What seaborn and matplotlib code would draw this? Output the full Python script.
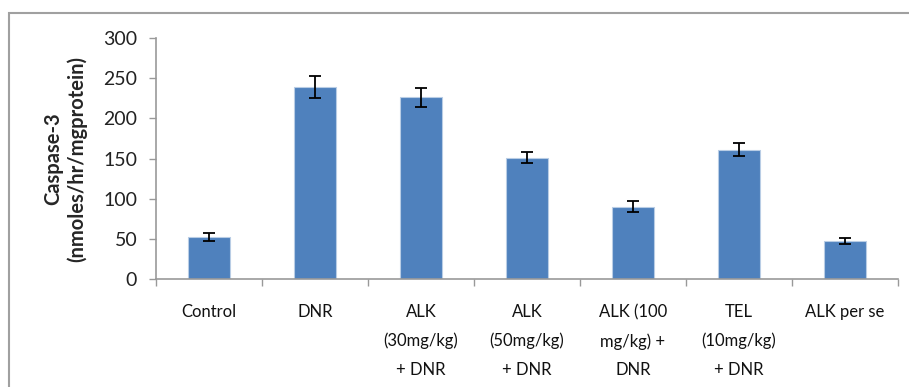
import matplotlib
matplotlib.use("Agg")
import matplotlib.pyplot as plt
import seaborn as sns
import pandas as pd
import numpy as np
from matplotlib.patches import Rectangle

categories = ["Control", "DNR", "ALK\n(30mg/kg)\n+ DNR", "ALK\n(50mg/kg)\n+ DNR",
              "ALK (100\nmg/kg) +\nDNR", "TEL\n(10mg/kg)\n+ DNR", "ALK per se"]
values = [52, 239, 226, 151, 90, 161, 47]
errors = [5, 14, 12, 7, 7, 8, 4]
yticks = [0, 50, 100, 150, 200, 250, 300]

sns.set_theme(style="white")
plt.rcParams['font.family'] = ['Lato', 'DejaVu Sans']

df = pd.DataFrame({"cat": categories, "val": values})

fig = plt.figure(figsize=(9.09, 3.87), dpi=100)
ax = fig.add_axes([156/909, 1-279/387, (898-156)/909, (279-38)/387])

sns.barplot(data=df, x="cat", y="val", color="#4F81BD", saturation=1, width=0.4,
            edgecolor="#B9CDE5", linewidth=0.8, ax=ax)
ax.errorbar(np.arange(len(values)), values, yerr=errors, fmt="none", ecolor="black",
            elinewidth=1.3, capsize=4.5, capthick=1.3)

ax.set_xlim(-0.5, len(values) - 0.5)
ax.set_ylim(0, 300)
ax.set_yticks(yticks)
ax.set_yticklabels([str(t) for t in yticks], fontsize=14, color="#222222")
ax.set_xticks(np.arange(len(values)))
ax.set_xticklabels(categories, fontsize=12, linespacing=1.95, color="#111111", va="top")
ax.set_xticks(np.arange(-0.5, len(values)), minor=True)
ax.tick_params(axis="x", which="major", length=0, pad=18)
ax.tick_params(axis="x", which="minor", length=5, width=1, color="#999999", direction="out", bottom=True)
ax.tick_params(axis="y", length=5, width=1, color="#999999", direction="out", left=True, pad=8.5)
ax.set_xlabel("")
ax.set_ylabel("Caspase-3\n(nmoles/hr/mgprotein)", fontsize=14.5, fontweight="bold",
              linespacing=1.25)
ax.yaxis.set_label_coords(-0.092, 0.5)

for side in ["top", "right"]:
    ax.spines[side].set_visible(False)
for side in ["left", "bottom"]:
    ax.spines[side].set_color("#999999")
    ax.spines[side].set_linewidth(1.2)

border = Rectangle((9/909, -0.05), 1.0, 1.05 - 13/387, transform=fig.transFigure,
                   fill=False, edgecolor="#A0A0A0", linewidth=1.5)
fig.patches.append(border)

fig.savefig("out.png", dpi=100)
